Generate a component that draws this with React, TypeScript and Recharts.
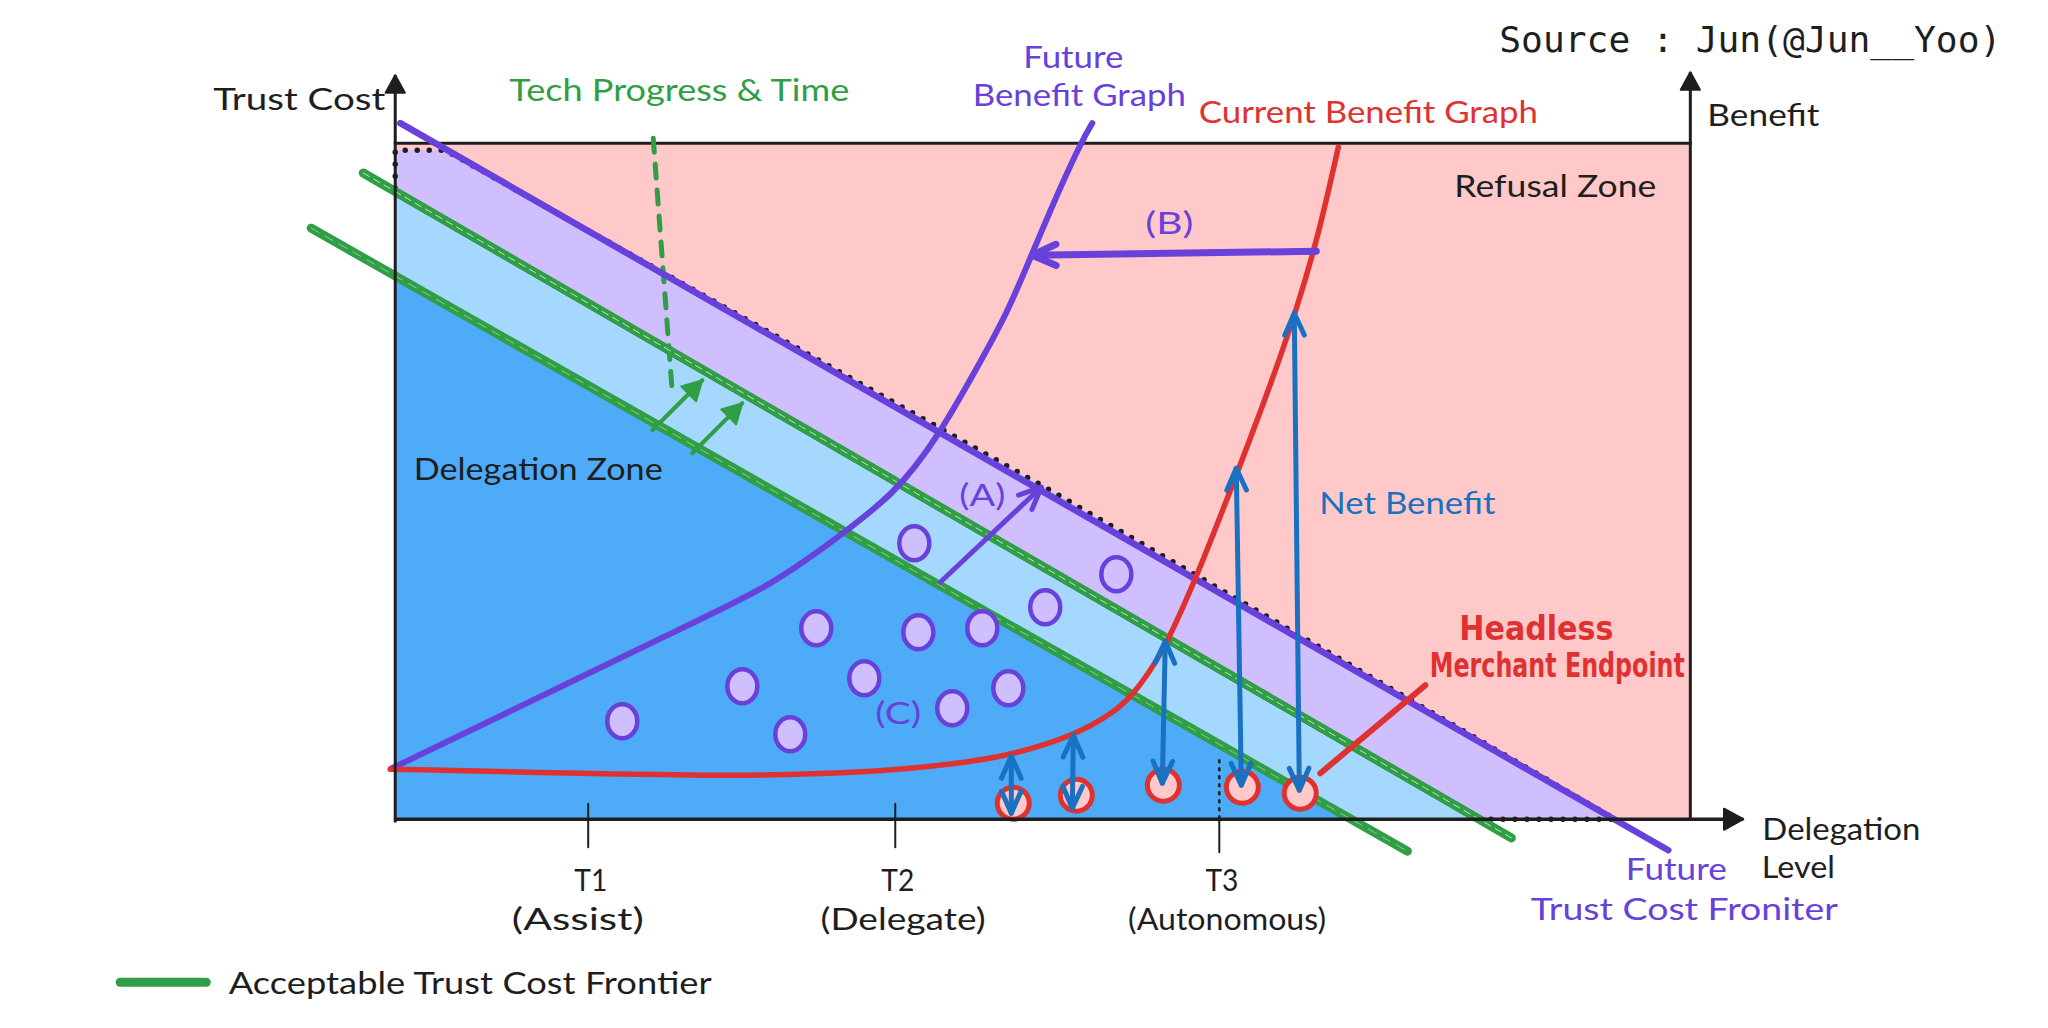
import React from 'react';
import { ComposedChart, XAxis, YAxis, Area, Line, Scatter, ReferenceLine, ReferenceDot } from 'recharts';

// x = delegation level, y = trust cost / benefit; the frame spans 0..100 on both
const refusalZone = [
  { x: 0, v: [0, 100] },
  { x: 100, v: [0, 100] },
];
const futureBand = [
  { x: 0, v: [92.3, 98.96] },
  { x: 3.86, v: [88.02, 98.96] },
  { x: 50, v: [36.83, 49.3] },
  { x: 83.2, v: [0, 12.2] },
  { x: 94.2, v: [0, 0] },
];
const acceptableBand = [
  { x: 0, v: [79.93, 92.3] },
  { x: 73.51, v: [0, 10.75] },
  { x: 83.2, v: [0, 0] },
];
const delegationZone = [
  { x: 0, v: [0, 79.93] },
  { x: 73.51, v: [0, 0] },
];

const refusalEdge = [
  { x: 0, y: 93.34 },
  { x: 0, y: 98.96 },
  { x: 3.86, y: 98.96 },
  { x: 50, y: 49.3 },
  { x: 94.2, y: 0 },
  { x: 83.47, y: 0 },
];
const bandEdge = [{ x: 0, y: 92.3 }, { x: 83.2, y: 0 }];
const frontierNow = [{ x: -2.47, y: 95.59 }, { x: 86.18, y: -2.76 }];
const frontierBefore = [{ x: -6.49, y: 87.43 }, { x: 78.15, y: -4.73 }];
const futureFrontier = [{ x: 0.39, y: 102.96 }, { x: 98.3, y: -4.59 }];

const futureBenefit = [
  { x: -0.3, y: 7.5 }, { x: 6.33, y: 13.61 }, { x: 13.82, y: 20.56 }, { x: 21.31, y: 27.51 },
  { x: 28.8, y: 34.32 }, { x: 32.82, y: 39.79 }, { x: 38.76, y: 48.22 }, { x: 42.08, y: 57.1 },
  { x: 44.94, y: 66.86 }, { x: 47.26, y: 74.85 }, { x: 49.19, y: 83.73 }, { x: 51.35, y: 93.49 },
  { x: 53.05, y: 100.44 }, { x: 53.82, y: 102.96 },
];
const currentBenefit = [
  { x: -0.39, y: 7.4 }, { x: 13.82, y: 6.8 }, { x: 25.02, y: 6.36 }, { x: 36.29, y: 6.8 },
  { x: 43.78, y: 8.28 }, { x: 47.49, y: 9.47 }, { x: 52.12, y: 12.13 }, { x: 55.21, y: 15.38 },
  { x: 56.99, y: 18.34 }, { x: 58.84, y: 23.52 }, { x: 59.85, y: 27.22 }, { x: 61.85, y: 35.65 },
  { x: 65.1, y: 51.63 }, { x: 67.72, y: 64.94 }, { x: 69.58, y: 75.3 }, { x: 71.27, y: 86.24 },
  { x: 72.82, y: 99.41 },
];

const tasks = [
  { x: 40.08, y: 40.83 }, { x: 55.68, y: 36.24 }, { x: 50.19, y: 31.36 }, { x: 32.51, y: 28.25 },
  { x: 40.39, y: 27.66 }, { x: 45.33, y: 28.25 }, { x: 26.8, y: 19.67 }, { x: 36.22, y: 20.86 },
  { x: 47.34, y: 19.38 }, { x: 43.01, y: 16.42 }, { x: 17.53, y: 14.5 }, { x: 30.5, y: 12.57 },
];
const endpoints = [
  { x: 47.72, y: 2.37 }, { x: 52.59, y: 3.55 }, { x: 59.31, y: 5.03 }, { x: 65.41, y: 4.73 }, { x: 69.88, y: 3.85 },
];
const netBenefit = [
  [{ x: 47.57, y: 9.32 }, { x: 47.57, y: 0.89 }],
  [{ x: 52.36, y: 12.43 }, { x: 52.28, y: 1.63 }],
  [{ x: 59.46, y: 26.33 }, { x: 59.23, y: 5.33 }],
  [{ x: 64.94, y: 51.92 }, { x: 65.33, y: 5.03 }],
  [{ x: 69.42, y: 74.85 }, { x: 69.81, y: 4.29 }],
];
const shiftA = [{ x: 42.08, y: 35.06 }, { x: 49.88, y: 49.11 }];
const shiftB = [{ x: 71.12, y: 84.02 }, { x: 49.19, y: 83.43 }];
const techLine = [{ x: 19.92, y: 100.74 }, { x: 21.39, y: 63.17 }];
const techArrows = [
  [{ x: 19.85, y: 57.54 }, { x: 23.71, y: 64.94 }],
  [{ x: 22.93, y: 54.14 }, { x: 26.8, y: 61.54 }],
];
const pointer = [{ x: 79.54, y: 19.82 }, { x: 71.43, y: 6.8 }];

const tiers = [
  { x: 14.9, name: 'T1', sub: '(Assist)' },
  { x: 38.61, name: 'T2', sub: '(Delegate)' },
  { x: 63.63, name: 'T3', sub: '(Autonomous)' },
];

const PINK = '#ffc9c9';
const LILAC = '#d0bfff';
const SKY = '#a5d8ff';
const BLUE = '#4dabf7';
const PURPLE = '#6741d9';
const GREEN = '#2f9e44';
const RED = '#e03131';
const NAVY = '#1971c2';
const INK = '#1e1e1e';
const HAND = "Lato, 'Open Sans', sans-serif";
const BOLD = "'Liberation Sans Narrow', 'DejaVu Sans Condensed', 'Roboto', sans-serif";

type ArrowOpts = { start?: boolean; end?: boolean; solid?: boolean; head?: number; dash?: string; cap?: string };

const arrow = (color: string, width: number, o: ArrowOpts = {}) => (p: any) => {
  const { x1, y1, x2, y2 } = p;
  const h = o.head ?? 20;
  const tip = (tx: number, ty: number, fx: number, fy: number, k: string) => {
    const a = Math.atan2(ty - fy, tx - fx);
    const s = o.solid ? 0.5 : 0.42;
    const lx = tx - h * Math.cos(a - s), ly = ty - h * Math.sin(a - s);
    const rx = tx - h * Math.cos(a + s), ry = ty - h * Math.sin(a + s);
    return o.solid ? (
      <polygon key={k} points={`${lx},${ly} ${tx},${ty} ${rx},${ry}`} fill={color} stroke={color} strokeWidth={2} strokeLinejoin="round" />
    ) : (
      <polyline key={k} points={`${lx},${ly} ${tx},${ty} ${rx},${ry}`} fill="none" stroke={color} strokeWidth={width} strokeLinecap="round" strokeLinejoin="round" />
    );
  };
  return (
    <g>
      <line x1={x1} y1={y1} x2={x2} y2={y2} stroke={color} strokeWidth={width} strokeDasharray={o.dash} strokeLinecap={(o.cap as any) ?? 'round'} />
      {o.end ? tip(x2, y2, x1, y1, 'e') : null}
      {o.start ? tip(x1, y1, x2, y2, 's') : null}
    </g>
  );
};

const seg = (key: string, pts: { x: number; y: number }[], shape: any, z: number) => (
  <ReferenceLine key={key} segment={pts} ifOverflow="visible" shape={shape} zIndex={z} />
);

const note = (
  key: string, text: string, x: number, y: number, color: string, size: number, width: number,
  family: string = HAND, weight: number = 400,
) => (
  <ReferenceDot
    key={key} x={x} y={y} r={0} ifOverflow="visible" zIndex={90}
    shape={(p: any) => (
      <text x={p.cx} y={p.cy} fill={color} fontSize={size} fontFamily={family} fontWeight={weight}
        textAnchor="middle" dominantBaseline="central" textLength={width} lengthAdjust="spacingAndGlyphs">
        {text}
      </text>
    )}
  />
);

const band = (key: string, data: any[], fill: string, z: number) => (
  <Area key={key} data={data} dataKey="v" type="linear" fill={fill} fillOpacity={1} stroke="none"
    dot={false} activeDot={false} isAnimationActive={false} zIndex={z} />
);

const path = (key: string, data: any[], color: string, width: number, z: number, curve: any = 'linear', dash?: string, opacity = 1) => (
  <Line key={key} data={data} dataKey="y" type={curve} stroke={color} strokeWidth={width} strokeDasharray={dash}
    strokeOpacity={opacity} strokeLinecap="round" strokeLinejoin="round" dot={false} activeDot={false}
    isAnimationActive={false} zIndex={z} />
);

export default function App() {
  return (
    <div style={{ width: 2032, height: 1012, background: '#fff' }}>
      <ComposedChart width={2032} height={1012} margin={{ top: 0, right: 0, bottom: 0, left: 0 }}>
        <XAxis type="number" dataKey="x" domain={[-29.9, 127.0]} hide allowDataOverflow />
        <YAxis type="number" dataKey="y" domain={[-29.7, 120.0]} hide allowDataOverflow />

        {band('refusal', refusalZone, PINK, 10)}
        {band('future', futureBand, LILAC, 11)}
        {band('acceptable', acceptableBand, SKY, 12)}
        {band('delegation', delegationZone, BLUE, 13)}

        {seg('boxTop', [{ x: 0, y: 100 }, { x: 100, y: 100 }], arrow(INK, 3, { cap: 'square' }), 20)}
        {path('refusalEdge', refusalEdge, INK, 5.5, 30, 'linear', '0 12')}
        {path('bandEdge', bandEdge, INK, 2, 31)}
        {seg('bandEdgeDash', bandEdge, arrow(INK, 1.5, { dash: '5 5', cap: 'butt' }), 31)}

        {seg('tech', techLine, arrow(GREEN, 5, { dash: '14 12', cap: 'round' }), 32)}
        {techArrows.map((a, i) => seg(`techA${i}`, a, arrow(GREEN, 4, { end: true, solid: true, head: 22 }), 32))}

        {path('frontierBefore', frontierBefore, GREEN, 9, 33)}
        {path('frontierNow', frontierNow, GREEN, 9, 33)}
        {path('frontierBeforeInner', frontierBefore, '#ffffff', 1, 34, 'linear', '9 7', 0.45)}
        {path('frontierNowInner', frontierNow, '#ffffff', 1, 34, 'linear', '7 5', 0.7)}
        {path('futureFrontier', futureFrontier, PURPLE, 6.5, 35)}

        {path('futureBenefit', futureBenefit, PURPLE, 6, 40, 'basis')}
        {path('currentBenefit', currentBenefit, RED, 5.5, 41, 'basis')}

        <Scatter data={tasks} isAnimationActive={false} zIndex={50}
          shape={(p: any) => <ellipse cx={p.cx} cy={p.cy} rx={15} ry={17} fill={LILAC} stroke={PURPLE} strokeWidth={4.5} />} />
        {seg('pointer', pointer, arrow(RED, 6), 51)}
        <Scatter data={endpoints} isAnimationActive={false} zIndex={52}
          shape={(p: any) => <ellipse cx={p.cx} cy={p.cy} rx={16} ry={16} fill={PINK} stroke={RED} strokeWidth={5} />} />

        {netBenefit.map((a, i) => seg(`net${i}`, a, arrow(NAVY, 5, { start: true, end: true, head: 24 }), 60))}
        {seg('shiftA', shiftA, arrow(PURPLE, 5, { end: true, head: 24 }), 60)}
        {seg('shiftB', shiftB, arrow(PURPLE, 7, { end: true, head: 26 }), 60)}

        {seg('yAxis', [{ x: 0, y: -0.5 }, { x: 0, y: 110.06 }], arrow(INK, 3, { end: true, solid: true, head: 20, cap: 'butt' }), 70)}
        {seg('y2Axis', [{ x: 100, y: 0 }, { x: 100, y: 110.5 }], arrow(INK, 3, { end: true, solid: true, head: 20, cap: 'butt' }), 70)}
        {seg('xAxis', [{ x: -0.1, y: 0 }, { x: 104.09, y: 0 }], arrow(INK, 3.5, { end: true, solid: true, head: 22, cap: 'butt' }), 70)}
        {tiers.slice(0, 2).map((t) => seg(`tick${t.name}`, [{ x: t.x, y: 2.3 }, { x: t.x, y: -4.14 }], arrow(INK, 2), 70))}
        {seg('tickT3dots', [{ x: tiers[2].x, y: 8.73 }, { x: tiers[2].x, y: 0 }], arrow(INK, 2.5, { dash: '2 6' }), 70)}
        {seg('tickT3', [{ x: tiers[2].x, y: 0 }, { x: tiers[2].x, y: -4.88 }], arrow(INK, 2), 70)}
        {seg('legendLine', [{ x: -21.24, y: -24.11 }, { x: -14.59, y: -24.11 }], arrow(GREEN, 9), 70)}

        {note('src', 'Source : Jun(@Jun__Yoo)', 104.63, 115.38, INK, 36, 502, "'DejaVu Sans Mono', monospace")}
        {note('tc', 'Trust Cost', -7.41, 106.66, INK, 30, 172)}
        {note('tech', 'Tech Progress & Time', 21.93, 107.99, GREEN, 30, 340)}
        {note('fb1', 'Future', 52.36, 112.87, PURPLE, 30, 100)}
        {note('fb2', 'Benefit Graph', 52.82, 107.25, PURPLE, 30, 213)}
        {note('cb', 'Current Benefit Graph', 75.14, 104.73, RED, 30, 339)}
        {note('ben', 'Benefit', 105.64, 104.29, INK, 30, 112)}
        {note('rz', 'Refusal Zone', 89.58, 93.79, INK, 30, 202)}
        {note('B', '(B)', 59.77, 88.31, PURPLE, 30, 48)}
        {note('dz', 'Delegation Zone', 11.04, 51.92, INK, 30, 249)}
        {note('A', '(A)', 45.33, 48.08, PURPLE, 30, 46)}
        {note('nb', 'Net Benefit', 78.15, 46.89, NAVY, 30, 176)}
        {note('h1', 'Headless', 88.11, 28.25, RED, 33, 154, BOLD, 700)}
        {note('h2', 'Merchant Endpoint', 89.73, 22.78, RED, 33, 255, BOLD, 700)}
        {note('C', '(C)', 38.84, 15.83, PURPLE, 30, 46)}
        {tiers.map((t) => note(`n${t.name}`, t.name, t.x + 0.2, -8.9, INK, 30, 33))}
        {tiers.map((t) => note(`s${t.name}`, t.sub, t.x + (t.name === 'T1' ? -0.8 : 0.6), -14.6, INK, 30, t.sub.length * 16.5))}
        {note('dl1', 'Delegation', 111.66, -1.33, INK, 30, 158)}
        {note('dl2', 'Level', 108.34, -6.95, INK, 30, 73)}
        {note('ff1', 'Future', 98.92, -7.25, PURPLE, 30, 101)}
        {note('ff2', 'Trust Cost Froniter', 99.54, -13.17, PURPLE, 30, 307)}
        {note('leg', 'Acceptable Trust Cost Frontier', 5.79, -24.11, INK, 30, 483)}
      </ComposedChart>
    </div>
  );
}
